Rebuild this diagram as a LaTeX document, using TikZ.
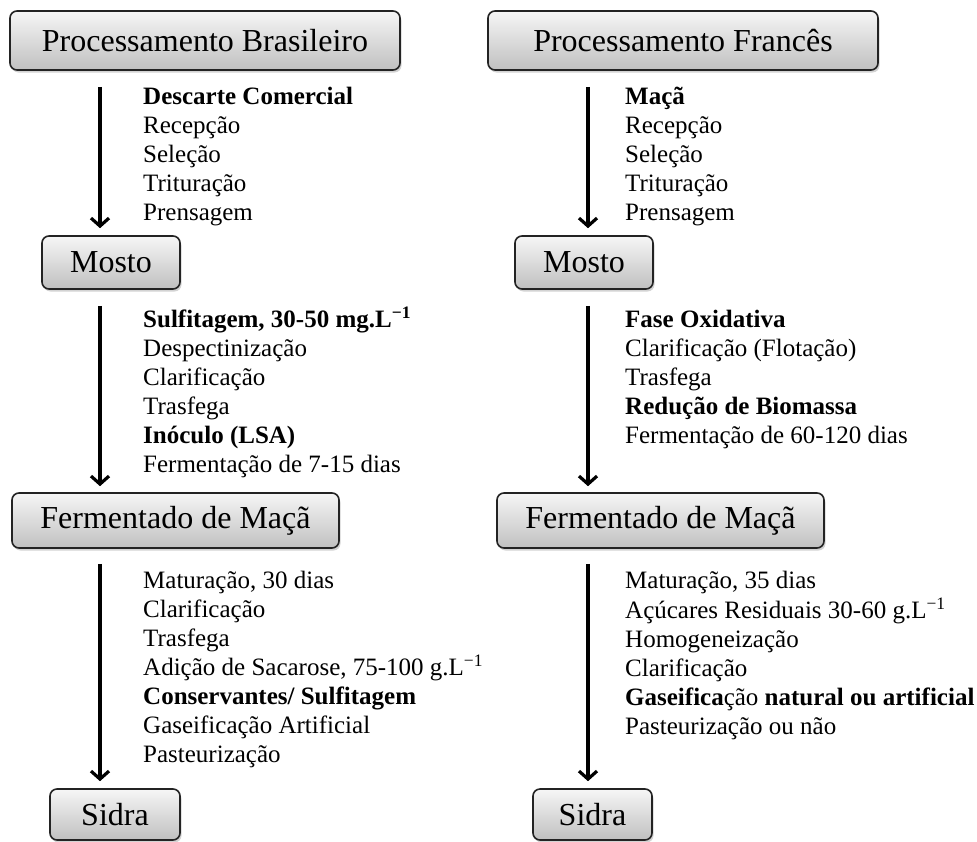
\documentclass[tikz,border=0pt]{standalone}
\usepackage{fontspec}
\setmainfont{Liberation Serif}
\usepackage{tikz}
\usetikzlibrary{arrows.meta, positioning, calc, shadows}
\definecolor{boxedge}{RGB}{35, 35, 35}
\definecolor{boxtop}{RGB}{246, 246, 246}
\definecolor{boxbottom}{RGB}{192, 192, 192}

\begin{document}
\begin{tikzpicture}[x=1pt, y=-1pt,
    stagebox/.style={draw=boxedge, line width=1.6pt, rounded corners=7pt,
        top color=boxtop, bottom color=boxbottom, inner sep=0pt,
        drop shadow={shadow xshift=1.5pt, shadow yshift=-2.5pt, opacity=0.35},
        font=\fontsize{32}{36}\selectfont},
    steplist/.style={anchor=north west, inner sep=0pt, align=left,
        font=\fontsize{25}{29}\selectfont},
    flow/.style={draw=black, line width=3.2pt, -{Straight Barb[length=8pt, width=18pt]}}]
    \useasboundingbox (0,0) rectangle (977,841);
    % columns of the arrows
    \coordinate (colA) at (100,0);
    \coordinate (colB) at (588,0);

    % left column
    \node[stagebox, minimum width=390pt, minimum height=59pt] (brasil) at (205,40.5) {Processamento Brasileiro};
    \node[stagebox, minimum width=138pt, minimum height=53pt] (mostoA) at (111,262.5) {Mosto};
    \node[stagebox, minimum width=327pt, minimum height=55pt] (fermA) at (175.5,520.5) {Fermentado de Maçã};
    \node[stagebox, minimum width=130pt, minimum height=51pt] (sidraA) at (115,814.5) {Sidra};

    % right column
    \node[stagebox, minimum width=390pt, minimum height=59pt] (frances) at (683,40.5) {Processamento Francês};
    \node[stagebox, minimum width=138pt, minimum height=53pt] (mostoB) at (584,262.5) {Mosto};
    \node[stagebox, minimum width=327pt, minimum height=55pt] (fermB) at (660.5,520.5) {Fermentado de Maçã};
    \node[stagebox, minimum width=119pt, minimum height=51pt] (sidraB) at (592.5,814.5) {Sidra};

    % arrows
    \draw[flow] ([yshift=-16pt]brasil.south -| colA) -- ([yshift=7pt]mostoA.north -| colA);
    \draw[flow] ([yshift=-16pt]mostoA.south -| colA) -- ([yshift=6pt]fermA.north -| colA);
    \draw[flow] ([yshift=-15pt]fermA.south -| colA) -- ([yshift=7pt]sidraA.north -| colA);
    \draw[flow] ([yshift=-16pt]frances.south -| colB) -- ([yshift=7pt]mostoB.north -| colB);
    \draw[flow] ([yshift=-16pt]mostoB.south -| colB) -- ([yshift=6pt]fermB.north -| colB);
    \draw[flow] ([yshift=-15pt]fermB.south -| colB) -- ([yshift=7pt]sidraB.north -| colB);

    % steps
    \node[steplist] (stepsA1) at (143,83.7) {\strut\textbf{Descarte Comercial}\\Recepção\\Seleção\\Trituração\\Prensagem};
    \node[steplist] (stepsA2) at (143,306.7) {\strut\textbf{Sulfitagem, 30-50 mg.L\textsuperscript{−1}}\\Despectinização\\Clarificação\\Trasfega\\\textbf{Inóculo (LSA)}\\Fermentação de 7-15 dias};
    \node[steplist] (stepsA3) at (143,567.7) {\strut Maturação, 30 dias\\Clarificação\\Trasfega\\Adição de Sacarose, 75-100 g.L\textsuperscript{−1}\\\textbf{Conservantes/ Sulfitagem}\\Gaseificação Artificial\\Pasteurização};
    \node[steplist] (stepsB1) at (625,83.7) {\strut\textbf{Maçã}\\Recepção\\Seleção\\Trituração\\Prensagem};
    \node[steplist] (stepsB2) at (625,306.7) {\strut\textbf{Fase Oxidativa}\\Clarificação (Flotação)\\Trasfega\\\textbf{Redução de Biomassa}\\Fermentação de 60-120 dias};
    \node[steplist] (stepsB3) at (625,567.7) {\strut Maturação, 35 dias\\Açúcares Residuais 30-60 g.L\textsuperscript{−1}\\Homogeneização\\Clarificação\\\textbf{Gaseifica}ção \textbf{natural ou artificial}\\Pasteurização ou não};
\end{tikzpicture}
\end{document}
